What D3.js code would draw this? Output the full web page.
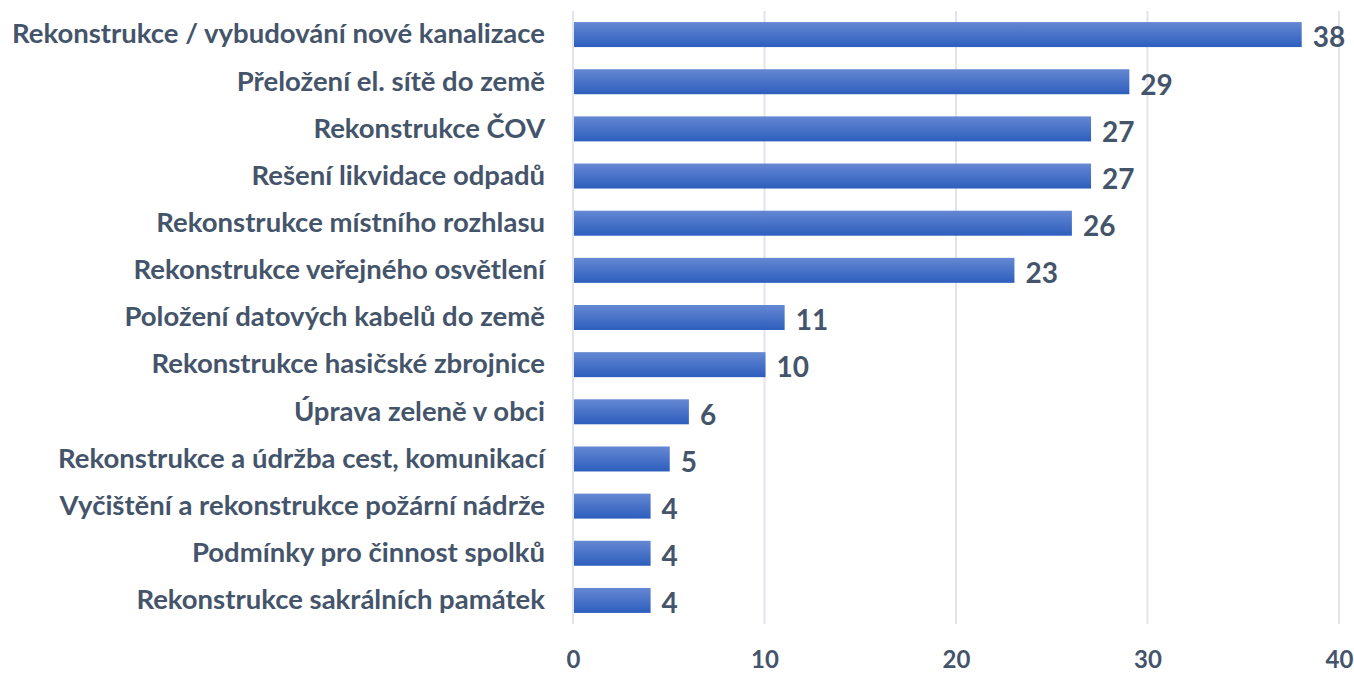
<!DOCTYPE html>
<html>
<head>
<meta charset="utf-8">
<script src="https://cdn.jsdelivr.net/npm/d3@7"></script>
<style>
  body { margin: 0; background: #fff; }
  text { font-family: Lato, "Open Sans", sans-serif; font-weight: bold; fill: #44546A; }
</style>
</head>
<body>
<svg class="chart"></svg>
<script>
let width = 1354, height = 673;
let margin = { top: 11, right: 15, bottom: 49, left: 573 };
let w = 1339 - margin.left;
let h = 624 - margin.top;

let categories = [
  "Rekonstrukce / vybudování nové kanalizace",
  "Přeložení el. sítě do země",
  "Rekonstrukce ČOV",
  "Rešení likvidace odpadů",
  "Rekonstrukce místního rozhlasu",
  "Rekonstrukce veřejného osvětlení",
  "Položení datových kabelů do země",
  "Rekonstrukce hasičské zbrojnice",
  "Úprava zeleně v obci",
  "Rekonstrukce a údržba cest, komunikací",
  "Vyčištění a rekonstrukce požární nádrže",
  "Podmínky pro činnost spolků",
  "Rekonstrukce sakrálních památek"
];
let values = [38, 29, 27, 27, 26, 23, 11, 10, 6, 5, 4, 4, 4];
let ticks = [0, 10, 20, 30, 40];

let svg = d3.select(".chart")
  .attr("width", width)
  .attr("height", height);

// bar gradient
let grad = svg.append("defs").append("linearGradient")
  .attr("id", "barGrad")
  .attr("x1", 0).attr("y1", 0).attr("x2", 0).attr("y2", 1);
grad.append("stop").attr("offset", "0%").attr("stop-color", "#6588D3");
grad.append("stop").attr("offset", "100%").attr("stop-color", "#2D5EBD");

let chart = svg.append("g")
  .attr("transform", "translate(" + margin.left + "," + margin.top + ")");

let x = d3.scaleLinear().domain([0, 40]).range([0, w]);
let y = d3.scaleBand().domain(categories).range([0, h]).paddingInner(0.47).paddingOuter(0.235);

// gridlines
chart.append("g")
  .selectAll("line")
  .data(ticks)
  .join("line")
  .attr("x1", d => x(d)).attr("x2", d => x(d))
  .attr("y1", 0).attr("y2", h)
  .style("stroke", "#E1E4EA")
  .style("stroke-width", 2);

// x axis labels
let xAxis = chart.append("g")
  .attr("transform", "translate(0," + h + ")")
  .call(d3.axisBottom(x).tickValues(ticks).tickSize(0).tickPadding(27));
xAxis.select(".domain").remove();
xAxis.selectAll("text")
  .style("font-size", "24px")
  .style("font-family", "Lato, 'Open Sans', sans-serif")
  .style("font-weight", "bold")
  .style("fill", "#44546A");

// category labels
let yAxis = chart.append("g")
  .call(d3.axisLeft(y).tickSize(0).tickPadding(28));
yAxis.select(".domain").remove();
yAxis.selectAll("text")
  .style("font-size", "27.5px")
  .style("font-family", "Lato, 'Open Sans', sans-serif")
  .style("font-weight", "bold")
  .style("fill", "#44546A");

// bars
chart.selectAll("rect.bar")
  .data(values)
  .join("rect")
  .attr("class", "bar")
  .attr("x", x(0) + 1)
  .attr("y", (d, i) => y(categories[i]))
  .attr("width", d => x(d) - x(0))
  .attr("height", y.bandwidth())
  .style("fill", "url(#barGrad)");

// value labels
chart.selectAll("text.val")
  .data(values)
  .join("text")
  .attr("class", "val")
  .attr("x", d => x(d) + 12)
  .attr("y", (d, i) => y(categories[i]) + y.bandwidth() / 2 + 3)
  .attr("dy", "0.35em")
  .style("font-size", "28px")
  .text(d => d);
</script>
</body>
</html>
